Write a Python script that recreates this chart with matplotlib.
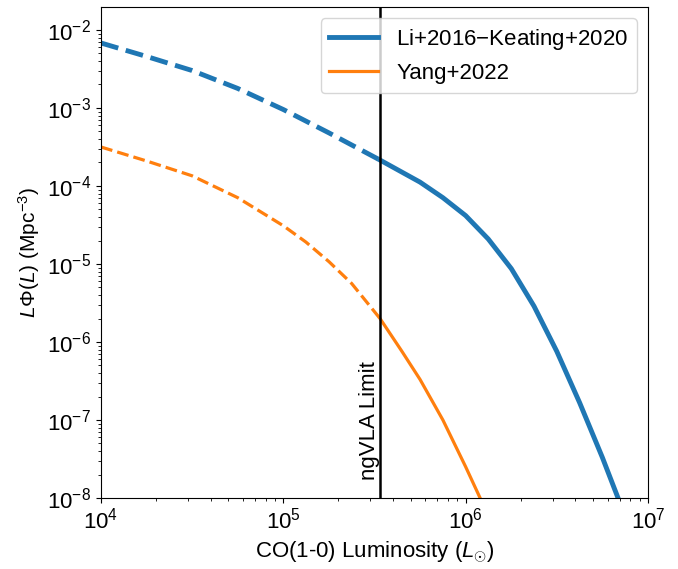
import numpy as np
import matplotlib
matplotlib.use("Agg")
import matplotlib.pyplot as plt

plt.rcParams['font.family'] = ['Liberation Sans', 'DejaVu Sans']
plt.rcParams['mathtext.fontset'] = 'custom'
plt.rcParams['mathtext.rm'] = 'Liberation Sans'
plt.rcParams['mathtext.it'] = 'Liberation Sans:italic'
plt.rcParams['mathtext.bf'] = 'Liberation Sans:bold'

# ---- data ----
ngvla_limit = 3.39e5

li_L = [1.0e4, 1.78e4, 3.16e4, 5.62e4, 1.0e5, 1.78e5, 3.39e5, 5.62e5, 7.5e5,
        1.0e6, 1.33e6, 1.78e6, 2.37e6, 3.16e6, 4.22e6, 5.62e6, 6.85e6]
li_phi = [6.81e-3, 4.57e-3, 3.02e-3, 1.78e-3, 9.55e-4, 4.79e-4, 2.15e-4, 1.12e-4, 7.08e-5,
          4.17e-5, 2.09e-5, 8.71e-6, 2.88e-6, 7.59e-7, 1.66e-7, 3.31e-8, 1.0e-8]

yang_L = [1.0e4, 1.78e4, 3.16e4, 5.62e4, 1.0e5, 1.33e5, 1.78e5, 2.37e5, 3.39e5,
          4.47e5, 5.62e5, 7.5e5, 1.0e6, 1.2e6]
yang_phi = [3.16e-4, 2.09e-4, 1.35e-4, 7.08e-5, 3.09e-5, 1.91e-5, 1.07e-5, 5.62e-6, 2.0e-6,
            7.59e-7, 3.31e-7, 1.0e-7, 2.51e-8, 1.0e-8]

labels = ["Li+2016$-$Keating+2020", "Yang+2022"]
colors = ["#1f77b4", "#ff7f0e"]
widths = [3.5, 2.3]

fig = plt.figure(figsize=(6.78, 5.69), dpi=100)
ax = fig.add_axes([101/678, 1-498/569, (648-101)/678, (498-7)/569])

for L, phi, lab, c, w in [(li_L, li_phi, labels[0], colors[0], widths[0]),
                          (yang_L, yang_phi, labels[1], colors[1], widths[1])]:
    L = np.array(L); phi = np.array(phi)
    lo = L <= ngvla_limit
    hi = L >= ngvla_limit
    ax.plot(L[lo], phi[lo], '--', color=c, lw=w)
    ax.plot(L[hi], phi[hi], '-', color=c, lw=w, label=lab)

ax.axvline(ngvla_limit, color='black', lw=1.8)
ax.text(ngvla_limit, 1.7e-8, "ngVLA Limit", rotation=90, ha='right', va='bottom',
        fontsize=16)

ax.set_xscale('log')
ax.set_yscale('log')
ax.set_xlim(1e4, 1e7)
ax.set_ylim(1e-8, 1.97e-2)
ax.tick_params(labelsize=16)
ax.set_xlabel(r"CO(1-0) Luminosity ($L_{\odot}$)", fontsize=16)
ax.set_ylabel(r"$L\Phi(L)$ (Mpc$^{-3}$)", fontsize=15)
ax.legend(loc='upper right', fontsize=16, handlelength=2.2)

fig.savefig("out.png", dpi=100)
